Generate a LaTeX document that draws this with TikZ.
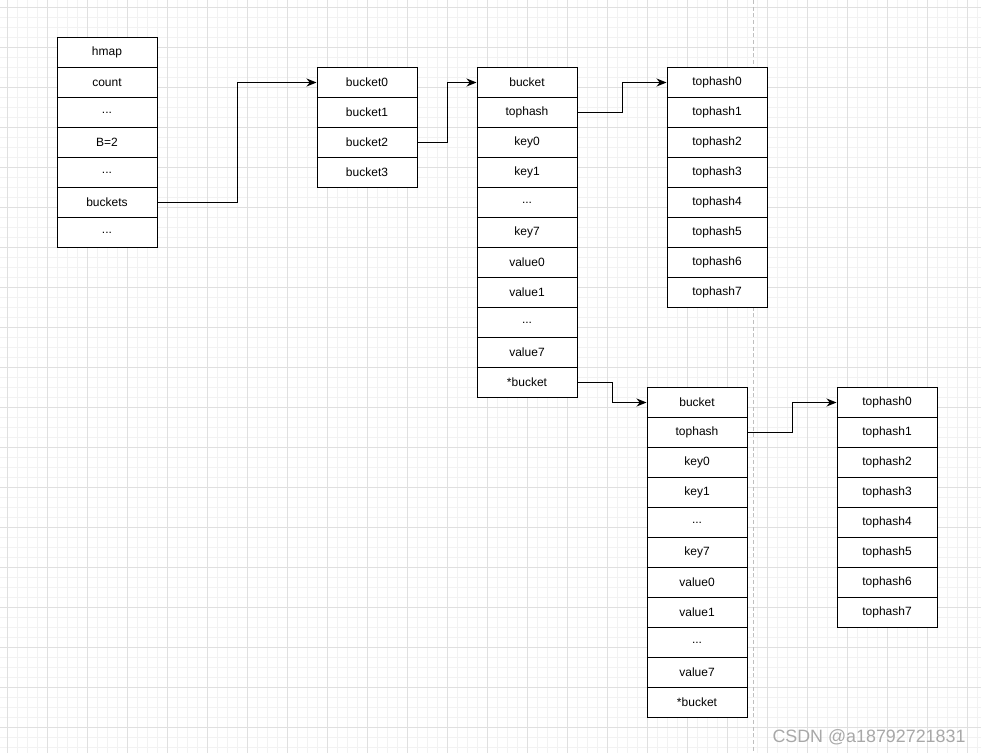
\documentclass[tikz,border=0pt]{standalone}
\usepackage{fontspec}
\setmainfont{Liberation Sans}
\usetikzlibrary{arrows.meta}
\definecolor{minorgrid}{HTML}{F2F2F2}
\definecolor{majorgrid}{HTML}{E0E0E0}
\definecolor{wmark}{HTML}{A8A8A8}
\tikzset{
  cell/.style={draw=black, line width=0.75pt, fill=white, minimum width=75pt, minimum height=22.5pt,
    inner sep=0pt, anchor=north west, font=\fontsize{9}{10}\selectfont},
  conn/.style={draw=black, line width=0.75pt, -{Stealth[length=7.5pt,width=6pt]}},
  gmin/.style={draw=minorgrid, line width=0.6pt},
  gmaj/.style={draw=majorgrid, line width=0.6pt},
}
\newcommand\cellat[4]{\node[cell] (#1) at (#2,#3) {#4};}
\begin{document}
\begin{tikzpicture}[x=0.75pt,y=-0.75pt]
\fill[white] (0,0) rectangle (981,753);
\useasboundingbox (0,0) rectangle (981,753);
\foreach \x in {7,17,...,977} \draw[gmin] (\x,0) -- (\x,753);
\foreach \y in {7,17,...,747} \draw[gmin] (0,\y) -- (981,\y);
\foreach \x in {7,47,...,967} \draw[gmaj] (\x,0) -- (\x,753);
\foreach \y in {7,47,...,727} \draw[gmaj] (0,\y) -- (981,\y);
\draw[draw=black!25, line width=0.75pt, dash pattern=on 3pt off 2pt] (753,0) -- (753,753);
% hmap
\cellat{h0}{56.5}{37}{hmap}
\cellat{h1}{56.5}{67}{count}
\cellat{h2}{56.5}{97}{...}
\cellat{h3}{56.5}{127}{B=2}
\cellat{h4}{56.5}{157}{...}
\cellat{h5}{56.5}{187}{buckets}
\cellat{h6}{56.5}{217}{...}
% buckets array
\cellat{b0}{316.5}{67}{bucket0}
\cellat{b1}{316.5}{97}{bucket1}
\cellat{b2}{316.5}{127}{bucket2}
\cellat{b3}{316.5}{157}{bucket3}
% bucket struct 1
\cellat{s0}{476.5}{67}{bucket}
\cellat{s1}{476.5}{97}{tophash}
\cellat{s2}{476.5}{127}{key0}
\cellat{s3}{476.5}{157}{key1}
\cellat{s4}{476.5}{187}{...}
\cellat{s5}{476.5}{217}{key7}
\cellat{s6}{476.5}{247}{value0}
\cellat{s7}{476.5}{277}{value1}
\cellat{s8}{476.5}{307}{...}
\cellat{s9}{476.5}{337}{value7}
\cellat{s10}{476.5}{367}{*bucket}
% tophash 1
\cellat{t0}{666.5}{67}{tophash0}
\cellat{t1}{666.5}{97}{tophash1}
\cellat{t2}{666.5}{127}{tophash2}
\cellat{t3}{666.5}{157}{tophash3}
\cellat{t4}{666.5}{187}{tophash4}
\cellat{t5}{666.5}{217}{tophash5}
\cellat{t6}{666.5}{247}{tophash6}
\cellat{t7}{666.5}{277}{tophash7}
% bucket struct 2
\cellat{u0}{646.5}{387}{bucket}
\cellat{u1}{646.5}{417}{tophash}
\cellat{u2}{646.5}{447}{key0}
\cellat{u3}{646.5}{477}{key1}
\cellat{u4}{646.5}{507}{...}
\cellat{u5}{646.5}{537}{key7}
\cellat{u6}{646.5}{567}{value0}
\cellat{u7}{646.5}{597}{value1}
\cellat{u8}{646.5}{627}{...}
\cellat{u9}{646.5}{657}{value7}
\cellat{u10}{646.5}{687}{*bucket}
% tophash 2
\cellat{v0}{836.5}{387}{tophash0}
\cellat{v1}{836.5}{417}{tophash1}
\cellat{v2}{836.5}{447}{tophash2}
\cellat{v3}{836.5}{477}{tophash3}
\cellat{v4}{836.5}{507}{tophash4}
\cellat{v5}{836.5}{537}{tophash5}
\cellat{v6}{836.5}{567}{tophash6}
\cellat{v7}{836.5}{597}{tophash7}
% connectors
\draw[conn] (h5.east) -- ++(80,0) |- (b0.west);
\draw[conn] (b2.east) -- ++(30,0) |- (s0.west);
\draw[conn] (s1.east) -- ++(45,0) |- (t0.west);
\draw[conn] (s10.east) -- ++(35,0) |- (u0.west);
\draw[conn] (u1.east) -- ++(45,0) |- (v0.west);
% watermark
\node[text=wmark, font=\fontsize{13.4}{15}\selectfont, inner sep=0pt] (wm) at (869,737) {CSDN @a18792721831};
\end{tikzpicture}
\end{document}
